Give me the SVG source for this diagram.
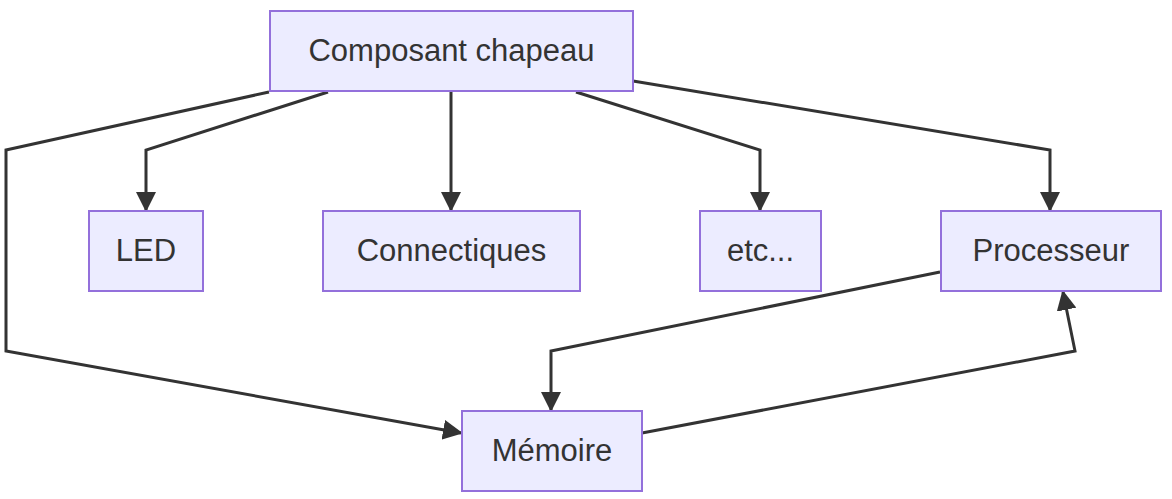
<svg xmlns="http://www.w3.org/2000/svg" width="1172" height="499" viewBox="0 0 1172 499">
<style>
.node rect{fill:#ECECFF;stroke:#9370DB;stroke-width:2}
.node text{font-family:"Liberation Sans",Arial,sans-serif;font-size:31px;fill:#333;text-anchor:middle}
.edges path{fill:none;stroke:#333;stroke-width:3}
</style>
<defs>
<marker id="arr" viewBox="0 0 10 10" refX="9" refY="5" markerUnits="userSpaceOnUse" markerWidth="20" markerHeight="20" orient="auto">
<path d="M0,0 L10,5 L0,10 z" fill="#333"/>
</marker>
</defs>
<rect width="1172" height="499" fill="#fff"/>
<g class="edges">
<path d="M269,92 L6,150 L6,351 L461,433" marker-end="url(#arr)"/>
<path d="M328,92 L146,150 L146,210" marker-end="url(#arr)"/>
<path d="M451,91 L451,210" marker-end="url(#arr)"/>
<path d="M576,92 L760,150 L760,210" marker-end="url(#arr)"/>
<path d="M633,81 L1050,150 L1050,210" marker-end="url(#arr)"/>
<path d="M940,272 L551,351 L551,410" marker-end="url(#arr)"/>
<path d="M642,433 L1075,351 L1063,292" marker-end="url(#arr)"/>
</g>
<g class="node" id="chapeau"><rect x="270" y="11" width="363" height="80"/><text x="451.5" y="61">Composant chapeau</text></g>
<g class="node" id="led"><rect x="89" y="211" width="114" height="80"/><text x="146" y="261">LED</text></g>
<g class="node" id="connectiques"><rect x="323" y="211" width="257" height="80"/><text x="451.5" y="261">Connectiques</text></g>
<g class="node" id="etc"><rect x="700" y="211" width="121" height="80"/><text x="760.5" y="261">etc...</text></g>
<g class="node" id="processeur"><rect x="941" y="211" width="220" height="80"/><text x="1051" y="261">Processeur</text></g>
<g class="node" id="memoire"><rect x="462" y="411" width="180" height="80"/><text x="552" y="461">Mémoire</text></g>
</svg>
